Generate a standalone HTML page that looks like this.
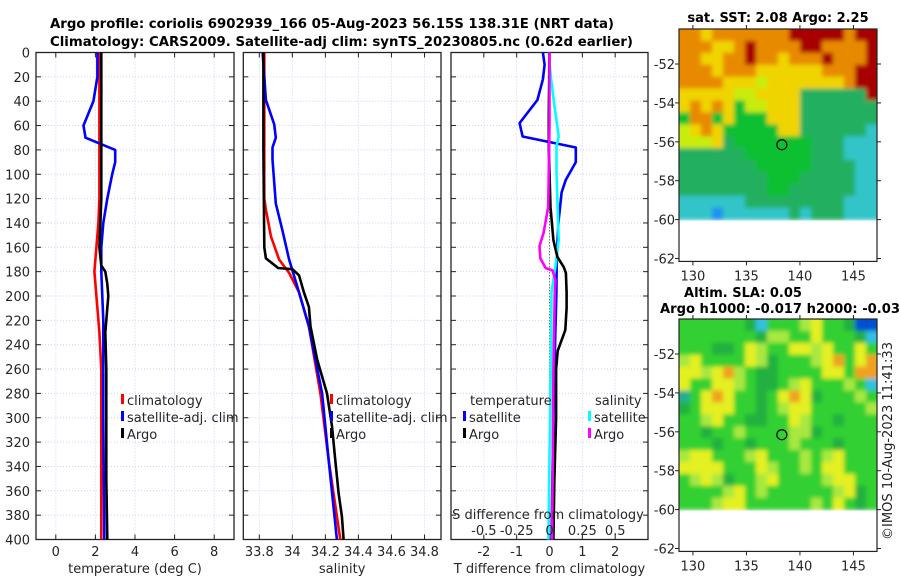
<!DOCTYPE html>
<html><head><meta charset="utf-8"><style>
html,body{margin:0;padding:0;background:#fff;}
svg{display:block;font-family:"DejaVu Sans","Liberation Sans",sans-serif;}
</style></head><body>
<svg id="fig" width="900" height="580" viewBox="0 0 900 580" xmlns="http://www.w3.org/2000/svg">
<defs>
<filter id="blur" x="-5%" y="-5%" width="110%" height="110%"><feGaussianBlur stdDeviation="2.2"/></filter>
<clipPath id="clip1"><rect x="679" y="29" width="198" height="191.5"/></clipPath>
<clipPath id="clip2"><rect x="679" y="319" width="198" height="191.5"/></clipPath>
</defs>
<g font-weight="bold" font-size="13" fill="#000">
<text x="50" y="28" textLength="564" lengthAdjust="spacingAndGlyphs">Argo profile: coriolis 6902939_166 05-Aug-2023 56.15S 138.31E (NRT data)</text>
<text x="50" y="46" textLength="583" lengthAdjust="spacingAndGlyphs">Climatology: CARS2009. Satellite-adj clim: synTS_20230805.nc (0.62d earlier)</text>
</g>
<g id="maps"></g>
<g id="panels"></g>
<text x="0" y="0" font-size="13" fill="#222" transform="translate(892,540) rotate(-90)" textLength="198" lengthAdjust="spacingAndGlyphs">©IMOS 10-Aug-2023 11:41:33</text>
</svg>
<script>
// ---------- profile data ----------
const depthTicks = [0,20,40,60,80,100,120,140,160,180,200,220,240,260,280,300,320,340,360,380,400];
const tempTicks = [0,2,4,6,8];
const salTicks = [33.8,34,34.2,34.4,34.6,34.8];
const salTickLabels = ["33.8","34","34.2","34.4","34.6","34.8"];
const diffTicks = [-2,-1,0,1,2];
const sdiffTicks = [-0.5,-0.25,0,0.25,0.5];
const sdiffTickLabels = ["-0.5","-0.25","0","0.25","0.5"];

const tempClimDepth = [0,40,80,120,140,160,180,200,230,260,300,350,400];
const tempClimVal   = [2.2,2.2,2.2,2.2,2.15,2.05,1.95,2.05,2.2,2.3,2.3,2.3,2.3];
const tempSatDepth = [0,20,40,60,70,80,90,100,120,140,160,180,220,300,400];
const tempSatVal   = [2.1,2.1,1.9,1.4,1.5,3.0,3.0,2.85,2.6,2.4,2.3,2.3,2.4,2.4,2.45];
const tempArgoDepth = [0,40,80,120,140,160,175,180,190,200,210,230,260,300,350,400];
const tempArgoVal   = [2.3,2.3,2.3,2.3,2.25,2.2,2.3,2.5,2.6,2.65,2.6,2.5,2.55,2.55,2.55,2.6];

const salClimDepth = [0,60,120,129,151,170,181,197,225,280,335,400];
const salClimVal   = [33.83,33.83,33.83,33.84,33.87,33.92,33.98,34.04,34.10,34.17,34.22,34.29];
const salSatDepth = [0,20,39,59,70,78,88,124,146,170,197,225,280,335,400];
const salSatVal   = [33.82,33.83,33.84,33.89,33.9,33.88,33.88,33.9,33.94,33.98,34.04,34.10,34.18,34.22,34.27];
const salArgoDepth = [0,80,160,169,177,178,183,197,209,225,252,280,307,335,362,381,400];
const salArgoVal   = [33.825,33.825,33.83,33.84,33.914,34.0,34.04,34.07,34.1,34.11,34.15,34.21,34.24,34.26,34.28,34.3,34.31];

const tdSatDepth = [0,10,22,39,58,69,78,90,105,115,140,170,197,260,330,400];
const tdSatVal   = [-0.2,-0.15,-0.2,-0.37,-0.91,-0.82,0.8,0.8,0.49,0.37,0.27,0.22,0.21,0.15,0.1,0.06];
const tdArgoDepth = [0,50,80,127,154,168,176,181,197,210,228,245,260,300,350,400];
const tdArgoVal   = [0.0,-0.02,-0.02,0.03,0.12,0.24,0.43,0.5,0.52,0.52,0.48,0.25,0.2,0.2,0.15,0.12];
const sdSatDepth = [0,20,44,69,77,99,154,176,197,260,330,400];
const sdSatVal   = [-0.005,0.01,0.038,0.07,0.053,0.053,0.07,0.045,0.015,0.01,0.0,-0.008];
const sdArgoDepth = [0,60,127,148,159,169,177,179,187,197,260,330,400];
const sdArgoVal   = [0.0,0.0,-0.01,-0.045,-0.076,-0.07,-0.03,0.023,0.046,0.04,0.03,0.025,0.02];

// ---------- map data (colour codes per cell) ----------
const sstRows = [
"OOYOOOOOOODDDDDODD","OOOYYODOOOODDOOOOD","OOYYOODOOYOOODOOOD","OOOYOOOYYYYYYOOODD",
"OOOOYYYLYYYYYYYODD","YYYYYLLYYYYTTTTTTD","YOYOYGLLYYYTTTTTTT","GOOGYGGGYYYTTTTTTT",
"LYOYGGGGGYYTTTTTTC","LLLYTGGGGGGGTTTCCC","TTTTTTGGGGGGTTTCCC","TTTTTTTGGGGGTTTTCC",
"TTTTTTTTGGGTTTTTCC","TTTTTTTTGGTTTTTTCC","CCCCCCTTTTTTTTTCCC","CCCBCCCCCCTCTTTCCC"];
const slaRows = [
"GGGGGGDCGGGLYGGDBB","GGGGGGGDLLGGYGGGDC","GGGDDGYLGGYYLYGGYG","LYGGGGYLDGGGLYOGYO",
"YYLYOLGDDGGGGYYGOO","YGGYYLGDDGLYGGGLGC","TGYOYGGDGYOYDGGGLG","DGYYYGGDGLYYGGGGGL",
"GGLYGGDDGGYLGGDGGG","GGDGGLGGGGLLDGGGGG","GGGDGGDGGGLGGGDGGG","LYYGGGLYGGGLGLYGGG",
"YYYYGGGYLGGLGYYGGG","GLYLDGGLYGGGGLYYGG","GGGGLYGLGGGGGGLYDG","GGGLYYGGGGGGLGYGDG"];
const mapLatTicks = [-52,-54,-56,-58,-60,-62];
const mapLonTicks = [130,135,140,145];
const argoLon = 138.31, argoLat = -56.15;

const NS="http://www.w3.org/2000/svg";
function el(tag, attrs, parent){const e=document.createElementNS(NS,tag);for(const k in attrs)e.setAttribute(k,attrs[k]);parent.appendChild(e);return e;}
function txt(x,y,s,anchor,parent,size,weight){const t=el('text',{x:x,y:y,'text-anchor':anchor||'start','font-size':size||13,fill:'#262626'},parent);if(weight)t.setAttribute('font-weight',weight);t.textContent=s;return t;}

const TOP=52.5, BOT=539.5;
const yD = d => TOP + (d/400)*(BOT-TOP);
const panels = document.getElementById('panels');

function makeAxes(name, x0, x1, xmin, xmax, ticks, labels, xtitle){
  const g = el('g',{},panels);
  
  
  const sx = v => x0 + (v-xmin)/(xmax-xmin)*(x1-x0);
  ticks.forEach(v=>{el('line',{x1:sx(v),x2:sx(v),y1:TOP,y2:BOT,stroke:'#ccd2f2','stroke-width':1,'stroke-dasharray':'1,2'},g);});
  depthTicks.forEach(d=>{el('line',{x1:x0,x2:x1,y1:yD(d),y2:yD(d),stroke:'#ccd2f2','stroke-width':1,'stroke-dasharray':'1,2'},g);});
  depthTicks.forEach(d=>{el('line',{x1:x0,x2:x0+5,y1:yD(d),y2:yD(d),stroke:'#222'},g);el('line',{x1:x1-5,x2:x1,y1:yD(d),y2:yD(d),stroke:'#222'},g);});
  ticks.forEach((v,i)=>{el('line',{x1:sx(v),x2:sx(v),y1:BOT,y2:BOT-5,stroke:'#222'},g);el('line',{x1:sx(v),x2:sx(v),y1:TOP,y2:TOP+5,stroke:'#222'},g);
    const t=txt(sx(v),556,labels[i],'middle',g);
    
    });
  el('rect',{x:x0,y:TOP,width:x1-x0,height:BOT-TOP,fill:'none',stroke:'#222','stroke-width':1.3},g);
  const tt=txt((x0+x1)/2,573,xtitle,'middle',g);
  
  
  return {g:g, sx:sx};
}
function line(ax, depths, vals, color, name, width){
  const pts = depths.map((d,i)=>ax.sx(vals[i]).toFixed(1)+','+yD(d).toFixed(1)).join(' ');
  const p = el('polyline',{points:pts,fill:'none',stroke:color,'stroke-width':width||2.6,'stroke-linejoin':'round'},ax.g);
  
  
}
function legend(g, x, y, color, label){
  const r=el('rect',{x:x,y:y-11,width:3,height:10,fill:color},g);
  
  
  const t=txt(x+6,y,label,'start',g);
  
  
}

const yl = el('g',{},panels);


depthTicks.forEach(d=>{txt(30,yD(d)+5,String(d),'end',yl);});

const a1 = makeAxes('temperature-panel',36,234,-1,9,tempTicks,tempTicks.map(String),'temperature (deg C)');
line(a1,tempClimDepth,tempClimVal,'#ff0000','temp-climatology-line');
line(a1,tempSatDepth,tempSatVal,'#0000ff','temp-satellite-line');
line(a1,tempArgoDepth,tempArgoVal,'#000000','temp-argo-line');
legend(a1.g,121,405,'#ff0000','climatology');
legend(a1.g,121,422,'#0000ff','satellite-adj. clim');
legend(a1.g,121,439,'#000000','Argo');

const a2 = makeAxes('salinity-panel',243.3,441,33.703,34.9,salTicks,salTickLabels,'salinity');
line(a2,salClimDepth,salClimVal,'#ff0000','sal-climatology-line');
line(a2,salSatDepth,salSatVal,'#0000ff','sal-satellite-line');
line(a2,salArgoDepth,salArgoVal,'#000000','sal-argo-line');
legend(a2.g,330,405,'#ff0000','climatology');
legend(a2.g,330,422,'#0000ff','satellite-adj. clim');
legend(a2.g,330,439,'#000000','Argo');

const a3 = makeAxes('difference-panel',451,648,-3,3,diffTicks,diffTicks.map(String),'T difference from climatology');
const a3s = {g:a3.g, sx: v => a3.sx(v*4)};
el('line',{x1:a3.sx(0),x2:a3.sx(0),y1:yD(50),y2:BOT,stroke:'#444','stroke-width':1,'stroke-dasharray':'1,2'},a3.g);
line(a3,tdSatDepth,tdSatVal,'#0000ff','tdiff-satellite-line');
line(a3s,sdSatDepth,sdSatVal,'#00ffff','sdiff-satellite-line');
line(a3,tdArgoDepth,tdArgoVal,'#000000','tdiff-argo-line');
line(a3s,sdArgoDepth,sdArgoVal,'#ff00ff','sdiff-argo-line');
txt(470,405,'temperature','start',a3.g);
legend(a3.g,463,422,'#0000ff','satellite');
legend(a3.g,463,439,'#000000','Argo');
txt(595,405,'salinity','start',a3.g);
legend(a3.g,588,422,'#00ffff','satellite');
legend(a3.g,588,439,'#ff00ff','Argo');
const sdt = txt(548,519,'S difference from climatology','middle',a3.g);


sdiffTicks.forEach((v,i)=>{txt(a3s.sx(v),535,sdiffTickLabels[i],'middle',a3.g);});

// ---------- maps ----------
const maps = document.getElementById('maps');
const MX0=679, MX1=877, LON0=128.7, LON1=147.2;
const mx = lon => MX0 + (lon-LON0)/(LON1-LON0)*(MX1-MX0);
const sstCol = {O:'#e88a00',D:'#a80000',Y:'#f0d400',L:'#c8ec10',G:'#10c030',T:'#20b060',C:'#30c4c8',B:'#2090f0'};
const slaCol = {G:'#30d030',D:'#20b040',Y:'#e4f020',L:'#a8e840',O:'#f0a020',T:'#20b090',B:'#0050d0',C:'#30c0e0'};
function drawMap(name, top, rows, cols, clipId){
  const g = el('g',{},maps);
  
  
  const pxDeg = 19.45;
  const my = lat => top + (-50.2 - lat)*pxDeg;
  const dataBottom = my(-60), boxBottom = my(-62.15);
  const nr = rows.length, nc = rows[0].length;
  const cw=(MX1-MX0)/nc, ch=(dataBottom-top)/nr;
  const cg = el('g',{'clip-path':'url(#'+clipId+')'},g);
  const bg = el('g',{filter:'url(#blur)'},cg);
  rows.forEach((r,i)=>{for(let j=0;j<nc;j++){
    let w=cw+0.6, h=ch+0.6, x=MX0+j*cw, y=top+i*ch;
    if(j===0){x-=6;w+=6;} if(j===nc-1){w+=6;} if(i===0){y-=6;h+=6;}
    el('rect',{x:x.toFixed(2),y:y.toFixed(2),width:w.toFixed(2),height:h.toFixed(2),fill:cols[r[j]]},bg);}});
  el('rect',{x:MX0,y:top,width:MX1-MX0,height:boxBottom-top,fill:'none',stroke:'#222','stroke-width':1.2},g);
  mapLatTicks.forEach(l=>{el('line',{x1:MX0-4,x2:MX0,y1:my(l),y2:my(l),stroke:'#222'},g);el('line',{x1:MX1,x2:MX1+4,y1:my(l),y2:my(l),stroke:'#222'},g);txt(MX0-4,my(l)+5,String(l),'end',g);});
  mapLonTicks.forEach(l=>{el('line',{x1:mx(l),x2:mx(l),y1:boxBottom,y2:boxBottom+4,stroke:'#222'},g);el('line',{x1:mx(l),x2:mx(l),y1:top,y2:top-4,stroke:'#222'},g);txt(mx(l),boxBottom+19,String(l),'middle',g);});
  const c = el('circle',{cx:mx(argoLon),cy:my(argoLat),r:5,fill:'none',stroke:'#000','stroke-width':1.2},g);
  
  
  return g;
}
const m1 = drawMap('sst-map', 29, sstRows, sstCol, 'clip1');
const t1 = txt(778,22,'sat. SST: 2.08 Argo: 2.25','middle',m1,13,'bold');
t1.setAttribute('fill','#000');


const m2 = drawMap('sla-map', 319, slaRows, slaCol, 'clip2');
const t2 = txt(743,297,'Altim. SLA: 0.05','middle',m2,13,'bold');
t2.setAttribute('fill','#000');


const t3 = txt(660,313,'Argo h1000: -0.017 h2000: -0.03','start',m2,13,'bold');
t3.setAttribute('fill','#000');
t3.setAttribute('textLength','240');
t3.setAttribute('lengthAdjust','spacingAndGlyphs');


</script>
</body></html>
